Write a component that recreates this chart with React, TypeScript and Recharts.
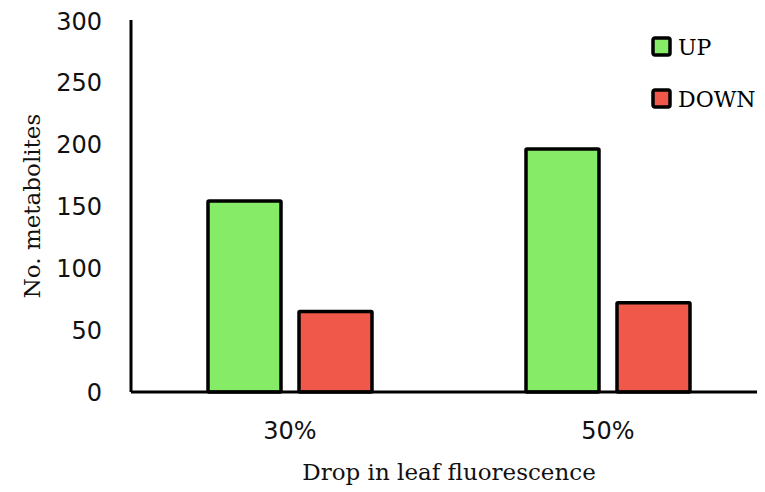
import React from 'react';
import { BarChart, Bar, XAxis, YAxis } from 'recharts';

const categories = ['30%', '50%'];
const upValues = [154, 196];
const downValues = [65, 72];
const yTicks = [0, 50, 100, 150, 200, 250, 300];

const seriesInfo = [
  { key: 'UP', color: '#86EC68' },
  { key: 'DOWN', color: '#F0584A' },
];

const chartData = categories.map((name, i) => ({
  name,
  UP: upValues[i],
  DOWN: downValues[i],
}));

const serif = '"DejaVu Serif", serif';
const sans = '"DejaVu Sans", sans-serif';

function LegendBox() {
  return (
    <div
      style={{
        position: 'absolute',
        top: 26,
        left: 643,
        fontFamily: serif,
        fontSize: 22,
        color: '#000',
      }}
    >
      {seriesInfo.map((s, i) => (
        <div
          key={s.key}
          style={{ display: 'flex', alignItems: 'center', height: 26, marginBottom: i === 0 ? 26 : 0 }}
        >
          <svg width={22} height={22} style={{ marginRight: 5 }}>
            <rect x={2} y={2} width={17} height={17} fill={s.color} stroke="#000" strokeWidth={3.5} rx={2} />
          </svg>
          <span>{s.key}</span>
        </div>
      ))}
    </div>
  );
}

export default function App() {
  return (
    <div style={{ width: 757, height: 484, overflow: 'hidden', position: 'relative' }}>
      <BarChart
        width={770}
        height={484}
        data={chartData}
        margin={{ top: 12, right: 11, bottom: 0, left: 0 }}
        barSize={73}
        barGap={18}
      >
        <XAxis
          dataKey="name"
          height={100}
          axisLine={{ stroke: '#000', strokeWidth: 3 }}
          tickLine={false}
          tickSize={0}
          tickMargin={30}
          tick={{ fill: '#111', fontSize: 24, fontFamily: sans }}
          label={{
            value: 'Drop in leaf fluorescence',
            position: 'insideBottom',
            offset: 12,
            fill: '#111',
            fontSize: 23,
            fontFamily: serif,
          }}
        />
        <YAxis
          width={123}
          domain={[0, 300]}
          ticks={yTicks}
          axisLine={{ stroke: '#000', strokeWidth: 3 }}
          tickLine={false}
          tickSize={0}
          tickMargin={29}
          tick={{ fill: '#111', fontSize: 24, fontFamily: sans }}
          label={{
            content: ({ viewBox }: any) => {
              const cx = viewBox.x + 24;
              const cy = viewBox.y + viewBox.height / 2;
              return (
                <text
                  x={cx}
                  y={cy}
                  transform={`rotate(-90, ${cx}, ${cy})`}
                  textAnchor="middle"
                  dominantBaseline="central"
                  fill="#111"
                  fontSize={23}
                  fontFamily={serif}
                >
                  No. metabolites
                </text>
              );
            },
          }}
        />
        {seriesInfo.map((s) => (
          <Bar
            key={s.key}
            dataKey={s.key}
            fill={s.color}
            stroke="#000"
            strokeWidth={3.5}
            radius={1}
            isAnimationActive={false}
          />
        ))}
      </BarChart>
      <LegendBox />
    </div>
  );
}
